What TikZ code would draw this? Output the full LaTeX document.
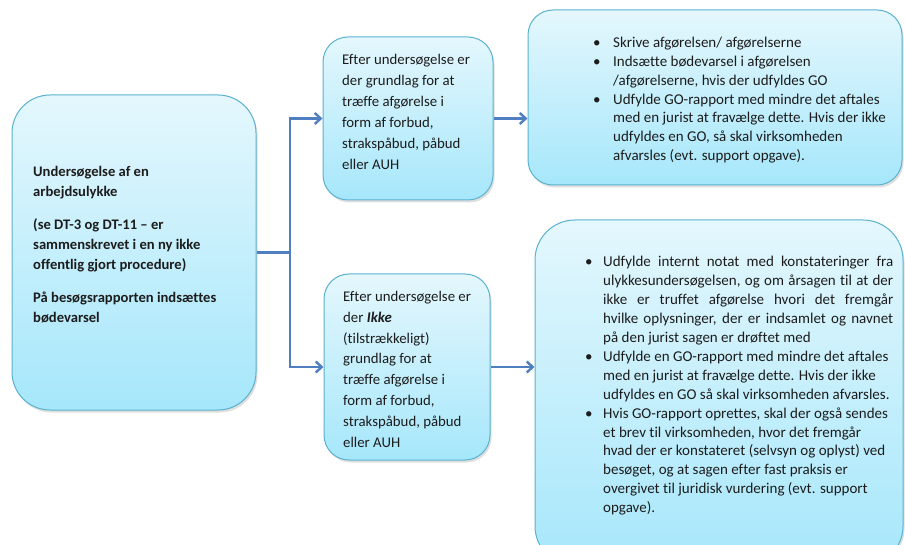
\documentclass[tikz,border=0pt]{standalone}
\usepackage{fontspec}
\setmainfont{Carlito}[Ligatures=NoCommon]
\usetikzlibrary{arrows.meta,shadows}
\definecolor{boxtop}{HTML}{E4F7FD}
\definecolor{boxbot}{HTML}{A6E7FB}
\definecolor{boxline}{HTML}{5AB2CE}
\definecolor{arrowc}{HTML}{4F7FC0}
\definecolor{txt}{HTML}{1C1C1C}
\newlength{\bulw}
\newcommand{\bul}[1]{\makebox[\bulw][l]{\textbullet}#1}
\newcommand{\ind}[1]{\hspace*{\bulw}#1}
\newcommand{\jus}[1]{\makebox[290pt][s]{#1}}
\begin{document}
\begin{tikzpicture}[x=1pt,y=-1pt,
  box/.style={draw=boxline, line width=1pt, top color=boxtop, bottom color=boxbot,
    drop shadow={shadow xshift=1.5pt, shadow yshift=-2.5pt, opacity=0.25},
    inner sep=0pt},
  txtnode/.style={anchor=base west, inner sep=0pt, text=txt},
  conn/.style={draw=arrowc, line width=2.8pt},
  arr/.style={conn, -{Straight Barb[length=6pt,width=11pt,line width=2.4pt]}}]
\useasboundingbox (0,0) rectangle (905,545);
\fill[white] (0,0) rectangle (905,545);
\clip (0,0) rectangle (905,545);

% boxes
\node[box, rounded corners=38pt, minimum width=244pt, minimum height=315pt] (left) at (134,252.5) {};
\node[box, rounded corners=25pt, minimum width=170pt, minimum height=163pt] (topmid) at (408,118.5) {};
\node[box, rounded corners=25pt, minimum width=166pt, minimum height=186pt] (botmid) at (407,367) {};
\node[box, rounded corners=25pt, minimum width=374pt, minimum height=175pt] (topright) at (715,97.5) {};
\node[box, rounded corners=40pt, minimum width=368pt, minimum height=346pt] (botright) at (719,393) {};

% connectors
\coordinate (fork) at (290,252.5);
\draw[conn] (left.east) -- (fork);
\draw[arr] (fork) |- (topmid.west);
\draw[arr] (fork) |- (botmid.west);
\draw[arr] (topmid.east) -- (topmid.east -| topright.west);
\draw[arr] (botmid.east) -- (botmid.east -| botright.west);

% texts
\node[txtnode] (lefttext) at (33,176.5) {\parbox[t]{220pt}{\fontsize{14.6}{20}\selectfont\bfseries
Undersøgelse af en\\
arbejdsulykke\\[13pt]
(se DT-3 og DT-11 – er\\
sammenskrevet i en ny ikke\\
offentlig gjort procedure)\\[13pt]
På besøgsrapporten indsættes\\
bødevarsel}};

\node[txtnode] (topmidtext) at (342,64.5) {\parbox[t]{150pt}{\fontsize{14.8}{21}\selectfont
Efter undersøgelse er\\
der grundlag for at\\
træffe afgørelse i\\
form af forbud,\\
strakspåbud, påbud\\
eller AUH}};

\node[txtnode] (botmidtext) at (343,301.5) {\parbox[t]{150pt}{\fontsize{14.8}{20.8}\selectfont
Efter undersøgelse er\\
der \textbf{\textit{Ikke}}\\
(tilstrækkeligt)\\
grundlag for at\\
træffe afgørelse i\\
form af forbud,\\
strakspåbud, påbud\\
eller AUH}};

\node[txtnode] (toprighttext) at (593,48) {\parbox[t]{300pt}{\fontsize{15}{18.7}\selectfont\setlength{\bulw}{20pt}%
\bul{Skrive afgørelsen/ afgørelserne}\\
\bul{Indsætte bødevarsel i afgørelsen}\\
\ind{/afgørelserne, hvis der udfyldes GO}\\
\bul{Udfylde GO-rapport med mindre det aftales}\\
\ind{med en jurist at fravælge dette. Hvis der ikke}\\
\ind{udfyldes en GO, så skal virksomheden}\\
\ind{afvarsles (evt. support opgave).}}};

\node[txtnode] (botrighttext) at (585,266.5) {\parbox[t]{320pt}{\fontsize{15}{18.95}\selectfont\setlength{\bulw}{18pt}%
\bul{\jus{Udfylde internt notat med konstateringer fra}}\\
\ind{\jus{ulykkesundersøgelsen, og om årsagen til at der}}\\
\ind{\jus{ikke er truffet afgørelse hvori det fremgår}}\\
\ind{\jus{hvilke oplysninger, der er indsamlet og navnet}}\\
\ind{på den jurist sagen er drøftet med}\\
\bul{Udfylde en GO-rapport med mindre det aftales}\\
\ind{med en jurist at fravælge dette. Hvis der ikke}\\
\ind{udfyldes en GO så skal virksomheden afvarsles.}\\
\bul{Hvis GO-rapport oprettes, skal der også sendes}\\
\ind{et brev til virksomheden, hvor det fremgår}\\
\ind{hvad der er konstateret (selvsyn og oplyst) ved}\\
\ind{besøget, og at sagen efter fast praksis er}\\
\ind{overgivet til juridisk vurdering (evt. support}\\
\ind{opgave).}}};
\end{tikzpicture}
\end{document}
